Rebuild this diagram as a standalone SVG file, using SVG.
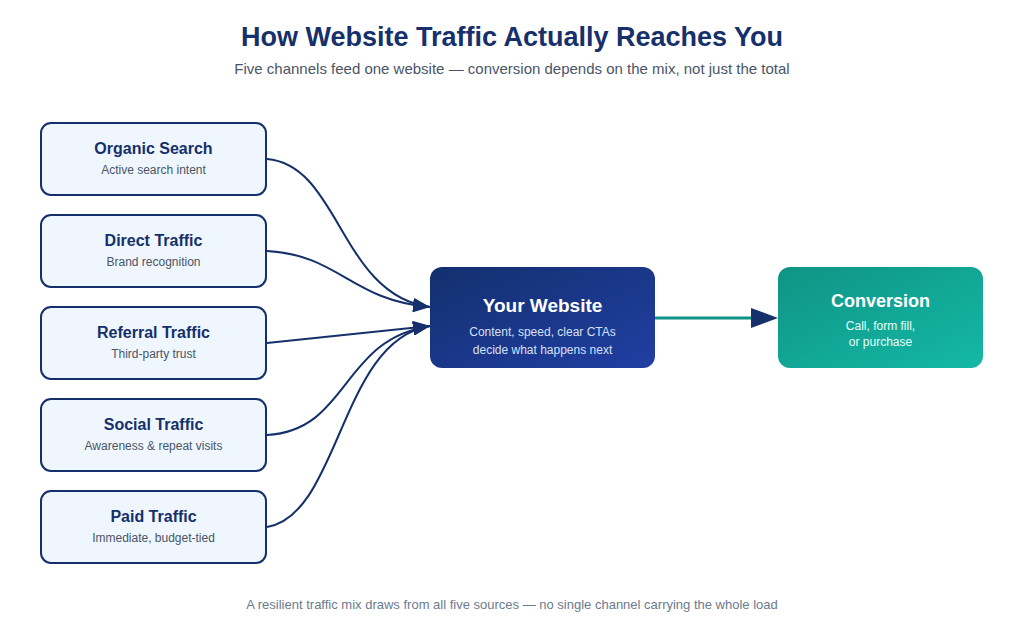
<svg xmlns="http://www.w3.org/2000/svg" width="1024" height="635" viewBox="0 0 1024 635">
<style>
text{font-family:"Liberation Sans",Arial,sans-serif;text-anchor:middle}
.src rect{fill:#eff6fd;stroke:#15306a;stroke-width:2}
.t{font-size:16px;font-weight:bold;fill:#15306a}
.s{font-size:12px;fill:#4a5568}
.c{fill:none;stroke:#15306a;stroke-width:2}
</style>
<defs>
<linearGradient id="gb" x1="0" y1="0" x2="1" y2="1"><stop offset="0" stop-color="#12306e"/><stop offset="1" stop-color="#213ea3"/></linearGradient>
<linearGradient id="gt" x1="0" y1="0" x2="1" y2="1"><stop offset="0" stop-color="#0f9485"/><stop offset="1" stop-color="#14b8a6"/></linearGradient>
<marker id="a2" viewBox="0 0 10 10" refX="10" refY="5" markerWidth="17" markerHeight="14" markerUnits="userSpaceOnUse" orient="auto" preserveAspectRatio="none"><path d="M0,0L10,5L0,10z" fill="#15306a"/></marker>
</defs>
<rect width="1024" height="635" fill="#fff"/>
<text x="512" y="46" style="font-size:27px;font-weight:bold;fill:#15306a">How Website Traffic Actually Reaches You</text>
<text x="512" y="74" style="font-size:15px;fill:#4a5568">Five channels feed one website — conversion depends on the mix, not just the total</text>
<g id="connectors">
<path class="c" marker-end="url(#a2)" d="M267,159 C340,165 340,295 430,307"/>
<path class="c" marker-end="url(#a2)" d="M267,251 C340,255 350,300 430,307"/>
<path class="c" marker-end="url(#a2)" d="M267,343 L430,326"/>
<path class="c" marker-end="url(#a2)" d="M267,435 C350,430 340,340 430,326"/>
<path class="c" marker-end="url(#a2)" d="M267,527 C340,515 340,340 430,326"/>
<path d="M655,318 L760,318" stroke="#0f9485" stroke-width="3" fill="none"/>
<path d="M751,308 L778,318 L751,328z" fill="#15306a"/>
</g>
<g id="organic" class="src"><rect x="41" y="123" width="225" height="72" rx="10"/><text class="t" x="153.5" y="154">Organic Search</text><text class="s" x="153.5" y="174">Active search intent</text></g>
<g id="direct" class="src"><rect x="41" y="215" width="225" height="72" rx="10"/><text class="t" x="153.5" y="246">Direct Traffic</text><text class="s" x="153.5" y="266">Brand recognition</text></g>
<g id="referral" class="src"><rect x="41" y="307" width="225" height="72" rx="10"/><text class="t" x="153.5" y="338">Referral Traffic</text><text class="s" x="153.5" y="358">Third-party trust</text></g>
<g id="social" class="src"><rect x="41" y="399" width="225" height="72" rx="10"/><text class="t" x="153.5" y="430">Social Traffic</text><text class="s" x="153.5" y="450">Awareness &amp; repeat visits</text></g>
<g id="paid" class="src"><rect x="41" y="491" width="225" height="72" rx="10"/><text class="t" x="153.5" y="522">Paid Traffic</text><text class="s" x="153.5" y="542">Immediate, budget-tied</text></g>
<g id="website"><rect x="430" y="267" width="225" height="101" rx="12" fill="url(#gb)"/><text x="542.5" y="312" style="font-size:19px;font-weight:bold;fill:#fff">Your Website</text><text x="542.5" y="336" style="font-size:12px;fill:#d6e0f5">Content, speed, clear CTAs</text><text x="542.5" y="354" style="font-size:12px;fill:#d6e0f5">decide what happens next</text></g>
<g id="conversion"><rect x="778" y="267" width="205" height="101" rx="12" fill="url(#gt)"/><text x="880.5" y="307" style="font-size:18px;font-weight:bold;fill:#fff">Conversion</text><text x="880.5" y="330" style="font-size:12px;fill:#e6fffb">Call, form fill,</text><text x="880.5" y="346" style="font-size:12px;fill:#e6fffb">or purchase</text></g>
<text x="512" y="609" style="font-size:13px;fill:#6b7a90">A resilient traffic mix draws from all five sources — no single channel carrying the whole load</text>
</svg>
